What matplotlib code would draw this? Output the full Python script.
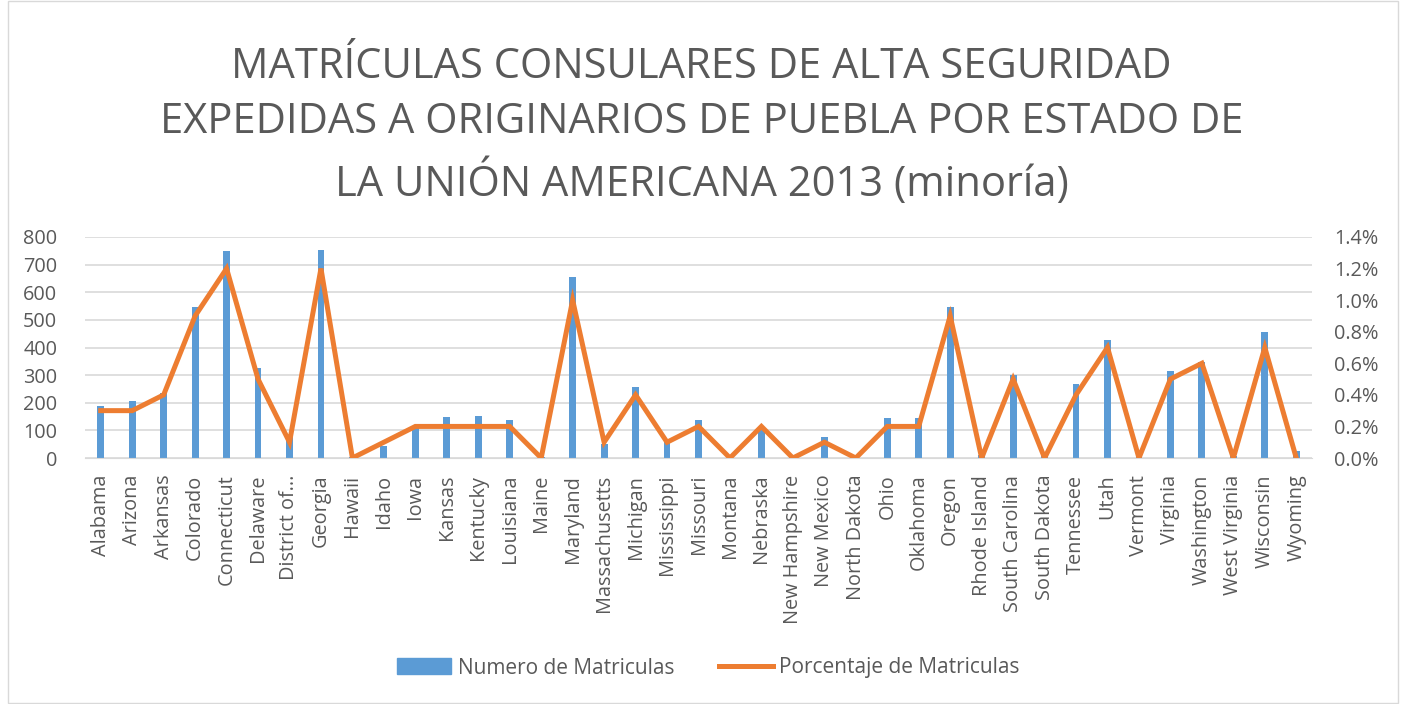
import matplotlib
matplotlib.use("Agg")
import matplotlib.pyplot as plt
from matplotlib.patches import Rectangle, Patch
from matplotlib.lines import Line2D
from matplotlib.ticker import FuncFormatter

plt.rcParams['font.family'] = ['Open Sans', 'DejaVu Sans']

states = ["Alabama", "Arizona", "Arkansas", "Colorado", "Connecticut", "Delaware",
          "District of...", "Georgia", "Hawaii", "Idaho", "Iowa", "Kansas", "Kentucky",
          "Louisiana", "Maine", "Maryland", "Massachusetts", "Michigan", "Mississippi",
          "Missouri", "Montana", "Nebraska", "New Hampshire", "New Mexico",
          "North Dakota", "Ohio", "Oklahoma", "Oregon", "Rhode Island",
          "South Carolina", "South Dakota", "Tennessee", "Utah", "Vermont", "Virginia",
          "Washington", "West Virginia", "Wisconsin", "Wyoming"]

matriculas = [190, 205, 234, 548, 750, 326, 85, 754, 5, 45, 110, 147, 153, 136, 5,
              654, 49, 256, 70, 136, 2, 106, 2, 76, 2, 146, 146, 545, 10, 299, 10,
              267, 427, 6, 315, 347, 6, 455, 25]

porcentaje = [0.3, 0.3, 0.4, 0.9, 1.2, 0.5, 0.1, 1.2, 0.0, 0.1, 0.2, 0.2, 0.2, 0.2, 0.0,
              1.0, 0.1, 0.4, 0.1, 0.2, 0.0, 0.2, 0.0, 0.1, 0.0, 0.2, 0.2, 0.9, 0.0, 0.5,
              0.0, 0.4, 0.7, 0.0, 0.5, 0.6, 0.0, 0.7, 0.0]

gray = "#595959"
blue = "#5B9BD5"
orange = "#ED7D31"

fig = plt.figure(figsize=(14.03, 7.04), dpi=100)
ax = fig.add_axes([85 / 1403, 1 - 458 / 704, (1312 - 85) / 1403, (458 - 237) / 704])
ax2 = ax.twinx()

x = list(range(len(states)))
ax.bar(x, matriculas, width=0.22, color=blue, zorder=2)
ax2.plot(x, porcentaje, color=orange, lw=3.6, solid_joinstyle="miter", zorder=3)

ax.set_xlim(-0.5, len(states) - 0.5)
ax.set_ylim(0, 800)
ax.set_yticks(range(0, 801, 100))
ax2.set_ylim(0, 1.4)
ax2.set_yticks([i * 0.2 for i in range(8)])
ax2.yaxis.set_major_formatter(FuncFormatter(lambda v, p: f"{v:.1f}%"))

ax.grid(axis="y", color="#D9D9D9", lw=1.2, zorder=0)
ax.set_axisbelow(True)
for a in (ax, ax2):
    for s in a.spines.values():
        s.set_visible(False)
ax.spines["bottom"].set_visible(True)
ax.spines["bottom"].set_color("#D9D9D9")

ax.set_xticks(x)
ax.set_xticklabels(states, rotation=90, fontsize=14.3, color=gray)
ax.tick_params(axis="x", length=0, pad=12)
ax.tick_params(axis="y", length=0, labelsize=14.3, labelcolor=gray, pad=20)
ax2.tick_params(axis="y", length=0, labelsize=14.3, labelcolor=gray, pad=16)

fig.text(0.5, 0.935, "MATRÍCULAS CONSULARES DE ALTA SEGURIDAD\n"
         "EXPEDIDAS A ORIGINARIOS DE PUEBLA POR ESTADO DE\n"
         "LA UNIÓN AMERICANA 2013 (minoría)",
         ha="center", va="top", fontsize=30, color=gray, linespacing=1.42)

handles = [Patch(color=blue), Line2D([0], [0], color=orange, lw=3.6)]
fig.legend(handles, ["Numero de Matriculas", "Porcentaje de Matriculas"],
           loc="center", bbox_to_anchor=(0.505, 1 - 668 / 704), ncol=2, frameon=False,
           fontsize=15, labelcolor=gray, handlelength=2.6, handleheight=0.8,
           handletextpad=0.3, columnspacing=2.15)

fig.patches.append(Rectangle((8 / 1403, 0.002), 1390 / 1403, 0.996,
                             transform=fig.transFigure, fill=False,
                             edgecolor="#D9D9D9", lw=1))

fig.savefig("out.png", dpi=100)
